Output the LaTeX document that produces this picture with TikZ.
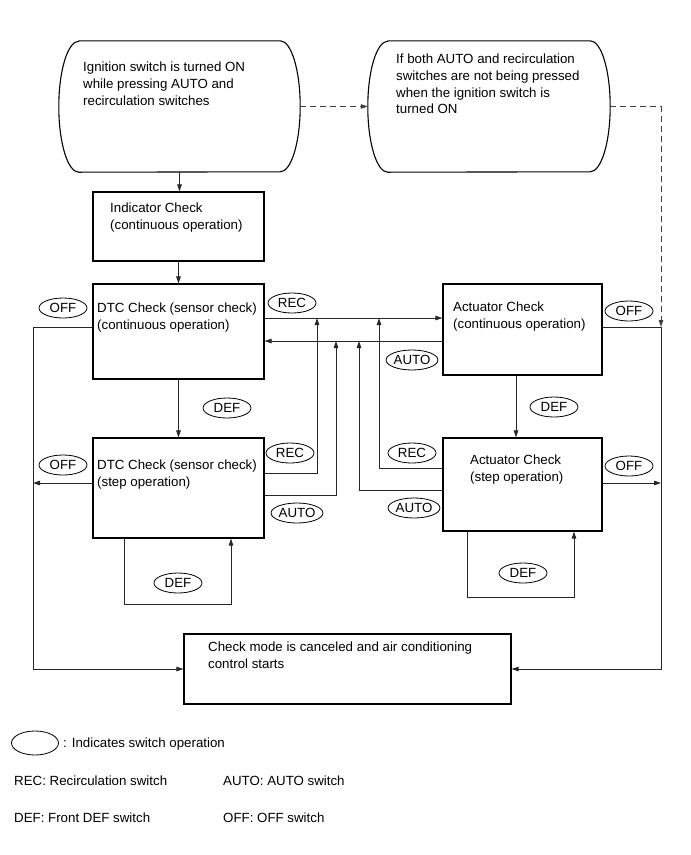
\documentclass[tikz,border=0pt]{standalone}
\usepackage{fontspec}
\setmainfont{Liberation Sans}
\usetikzlibrary{arrows.meta,shapes.geometric,calc}
\newcommand\myfs{\fontsize{13.3}{16.7}\selectfont}
\begin{document}
\begin{tikzpicture}[x=1pt,y=-1pt,
  box/.style={draw, line width=1.1pt, inner sep=0pt, rectangle},
  ghost/.style={inner sep=0pt, rectangle},
  sw/.style={draw, ellipse, line width=0.8pt, minimum width=48pt, minimum height=20pt, inner sep=0pt, font=\myfs},
  txt/.style={align=left, inner sep=0pt, anchor=north west, font=\myfs},
  lg/.style={inner sep=0pt, anchor=base west, font=\myfs},
  conn/.style={draw=black!85, line width=0.8pt},
  arr/.style={conn, -{Triangle[length=7pt,width=4.5pt]}},
  dsh/.style={draw=black!75, line width=0.8pt, dash pattern=on 6pt off 4pt},
  dsharr/.style={dsh, -{Triangle[length=7pt,width=4.5pt]}}
]
\useasboundingbox (0,0) rectangle (691,855);

% start shapes
\node[ghost, minimum width=241pt, minimum height=131pt] (s1) at (179.5,106.5) {};
\node[ghost, minimum width=242pt, minimum height=131pt] (s2) at (489,106.5) {};
\foreach \s in {s1,s2}{
  \draw[line width=1.1pt] ([xshift=20pt]\s.north west) -- ([xshift=-20pt]\s.north east)
    arc[start angle=90, end angle=-90, x radius=20pt, y radius=65.5pt]
    -- ([xshift=20pt]\s.south west)
    arc[start angle=270, end angle=90, x radius=20pt, y radius=65.5pt] -- cycle;
}
\node[txt] (t1) at (83,62) {Ignition switch is turned ON\\while pressing AUTO and\\recirculation switches};
\node[txt] (t2) at (396,54) {If both AUTO and recirculation\\switches are not being pressed\\when the ignition switch is\\turned ON};

% boxes
\node[box, minimum width=171pt, minimum height=69pt] (ind) at (178.5,226.5) {};
\node[box, minimum width=171pt, minimum height=95pt] (dtc1) at (178.5,331.5) {};
\node[box, minimum width=171pt, minimum height=100pt] (dtc2) at (178.5,488) {};
\node[box, minimum width=159pt, minimum height=91pt] (act1) at (522.5,329.5) {};
\node[box, minimum width=159pt, minimum height=93pt] (act2) at (522.5,484.5) {};
\node[box, minimum width=327pt, minimum height=70pt] (chk) at (347.5,669) {};

\node[txt] (tind) at (110,203) {Indicator Check\\(continuous operation)};
\node[txt] (tdtc1) at (97,303) {DTC Check (sensor check)\\(continuous operation)};
\node[txt] (tdtc2) at (97,460) {DTC Check (sensor check)\\(step operation)};
\node[txt] (tact1) at (453,302) {Actuator Check\\(continuous operation)};
\node[txt] (tact2) at (470,455) {Actuator Check\\(step operation)};
\node[txt] (tchk) at (208,642) {Check mode is canceled and air conditioning\\control starts};

% helper coordinates
\coordinate (yrec) at (0,318);
\coordinate (yauto) at (0,341);
\coordinate (yoff1) at (0,327);
\coordinate (yoff2) at (0,483);
\coordinate (xl) at (33,0);
\coordinate (xr) at (661,0);
\coordinate (xa) at (516,0);

% main flow
\draw[arr] (s1.south) -- (s1.south |- ind.north);
\draw[arr] (ind.south) -- (dtc1.north);
\draw[arr] (dtc1.south) -- (dtc2.north);
\draw[arr] (xa |- act1.south) -- (xa |- act2.north);

% dashed
\draw[dsharr] (s1.east) -- (s2.west);
\draw[dsharr] (s2.east) -- (xr |- s2.east) -- (xr |- yoff1);

% REC / AUTO between continuous boxes
\draw[arr] (dtc1.east |- yrec) -- (act1.west |- yrec);
\draw[arr] (act1.west |- yauto) -- (dtc1.east |- yauto);
\draw[arr] (dtc2.east |- 0,473) -| (317,318);
\draw[arr] (dtc2.east |- 0,495) -| (336,341);
\draw[arr] (act2.west |- 0,468) -| (379,318);
\draw[arr] (act2.west |- 0,490) -| (359,341);

% OFF
\draw[arr] (dtc1.west |- yoff1) -- (xl |- yoff1) -- (xl |- chk.west) -- (chk.west);
\draw[arr] (dtc2.west |- yoff2) -- (xl |- yoff2);
\draw[arr] (act1.east |- yoff1) -- (xr |- yoff1) -- (xr |- chk.east) -- (chk.east);
\draw[arr] (act2.east |- yoff2) -- (xr |- yoff2);

% DEF loops
\draw[arr] (124,0 |- dtc2.south) -- (124,604) -- (231,604) -- (231,0 |- dtc2.south);
\draw[arr] (467,0 |- act2.south) -- (467,597) -- (574,597) -- (574,0 |- act2.south);

% switch ellipses
\node[sw] (rec1) at (292,303) {REC};
\node[sw] (auto1) at (412,360) {AUTO};
\node[sw] (rec2) at (290,453) {REC};
\node[sw] (rec3) at (412,453) {REC};
\node[sw] (auto2) at (297,513) {AUTO};
\node[sw] (auto3) at (414,508) {AUTO};
\node[sw] (def1) at (227,408) {DEF};
\node[sw] (def2) at (554,407) {DEF};
\node[sw] (def3) at (178,583) {DEF};
\node[sw] (def4) at (523,573) {DEF};
\node[sw] (off1) at (63,308) {OFF};
\node[sw] (off2) at (63,465) {OFF};
\node[sw] (off3) at (629,311) {OFF};
\node[sw] (off4) at (629,466) {OFF};

% legend
\node[sw, minimum width=47pt, minimum height=24pt] (lgE) at (35,743) {};
\node[lg] (lg0) at (63,747.8) {: Indicates switch operation};
\node[lg] (lg1) at (14,785.8) {REC: Recirculation switch};
\node[lg] (lg2) at (223,785.8) {AUTO: AUTO switch};
\node[lg] (lg3) at (14,822.8) {DEF: Front DEF switch};
\node[lg] (lg4) at (223,822.8) {OFF: OFF switch};
\end{tikzpicture}
\end{document}
